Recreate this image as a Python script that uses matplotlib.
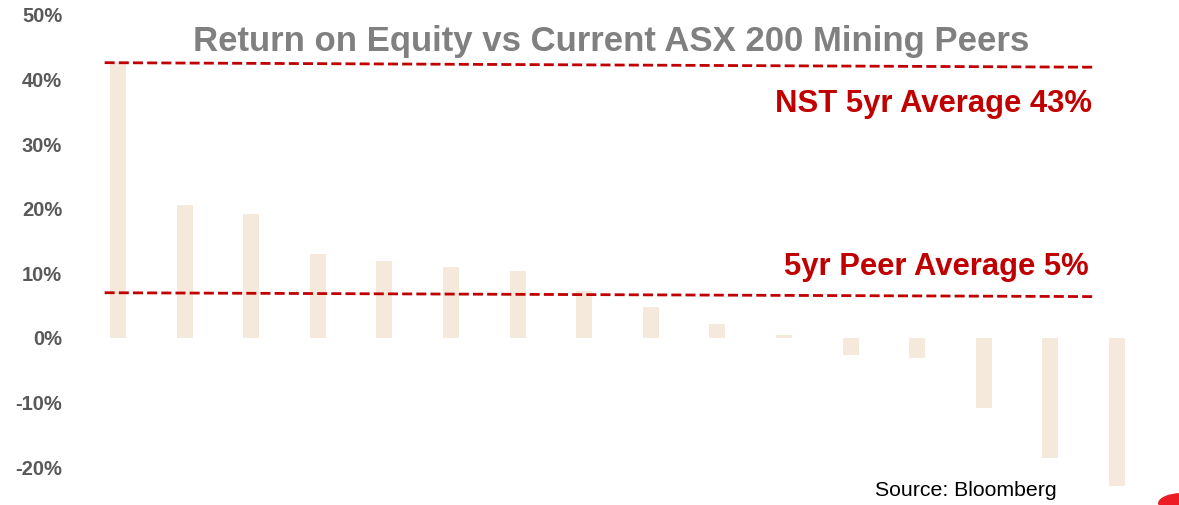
import numpy as np
import matplotlib
matplotlib.use('Agg')
import matplotlib.pyplot as plt
from matplotlib.patches import Ellipse

# Return on equity for ASX 200 mining peers (%)
roe = [42.5, 20.6, 19.2, 13.0, 11.9, 11.0, 10.3, 7.2, 4.8, 2.2, 0.5,
       -2.6, -3.1, -10.8, -18.5, -22.9]
yticks = [-20, -10, 0, 10, 20, 30, 40, 50]

# Reference lines (left end, right end) in %
nst_avg_line = [42.6, 41.9]
peer_avg_line = [7.0, 6.4]
line_span = [-0.2, 14.67]

narrow = ['Liberation Sans Narrow', 'Liberation Sans', 'DejaVu Sans']
bar_color = '#F5E9DC'
red = '#C00000'

fig = plt.figure(figsize=(11.79, 5.05), dpi=100)
ax = fig.add_axes([90 / 1179, 0, 1 - 90 / 1179, 1])

x = np.arange(len(roe))
ax.bar(x, roe, width=0.24, color=bar_color, zorder=1)

ax.plot(line_span, nst_avg_line, color=red, lw=2, ls=(0, (3.6, 1.5)), zorder=2)
ax.plot(line_span, peer_avg_line, color=red, lw=2, ls=(0, (3.6, 1.5)), zorder=2)

ax.set_xlim(-0.42, 15.93)
ax.set_ylim(-25.85, 52.3)
ax.set_xticks([])
ax.set_yticks(yticks)
ax.set_yticklabels([f'{v}%' for v in yticks], family=narrow, fontweight='bold',
                   fontsize=14.5, color='#595959')
ax.tick_params(axis='y', length=0, pad=20)
for s in ax.spines.values():
    s.set_visible(False)

fig.text(611 / 1179, 1 - 42 / 505, 'Return on Equity vs Current ASX 200 Mining Peers',
         ha='center', va='center', family=narrow, fontweight='bold',
         fontsize=25, color='#808080')
fig.text(1092 / 1179, 1 - 104 / 505, 'NST 5yr Average 43%', ha='right', va='center',
         family=narrow, fontweight='bold', fontsize=22.3, color=red)
fig.text(1089 / 1179, 1 - 267 / 505, '5yr Peer Average 5%', ha='right', va='center',
         family=narrow, fontweight='bold', fontsize=22.3, color=red)
fig.text(1057 / 1179, 1 - 490 / 505, 'Source: Bloomberg', ha='right', va='center',
         family=['Liberation Sans', 'DejaVu Sans'], fontsize=15.3, color='black')

# corner of the logo poking in at the bottom right
fig.patches.append(Ellipse((1178 / 1179, 1 - 502 / 505), 0.03, 0.035, angle=-45,
                           color='#ED1C24', transform=fig.transFigure, figure=fig))

fig.savefig('out.png', dpi=100)
